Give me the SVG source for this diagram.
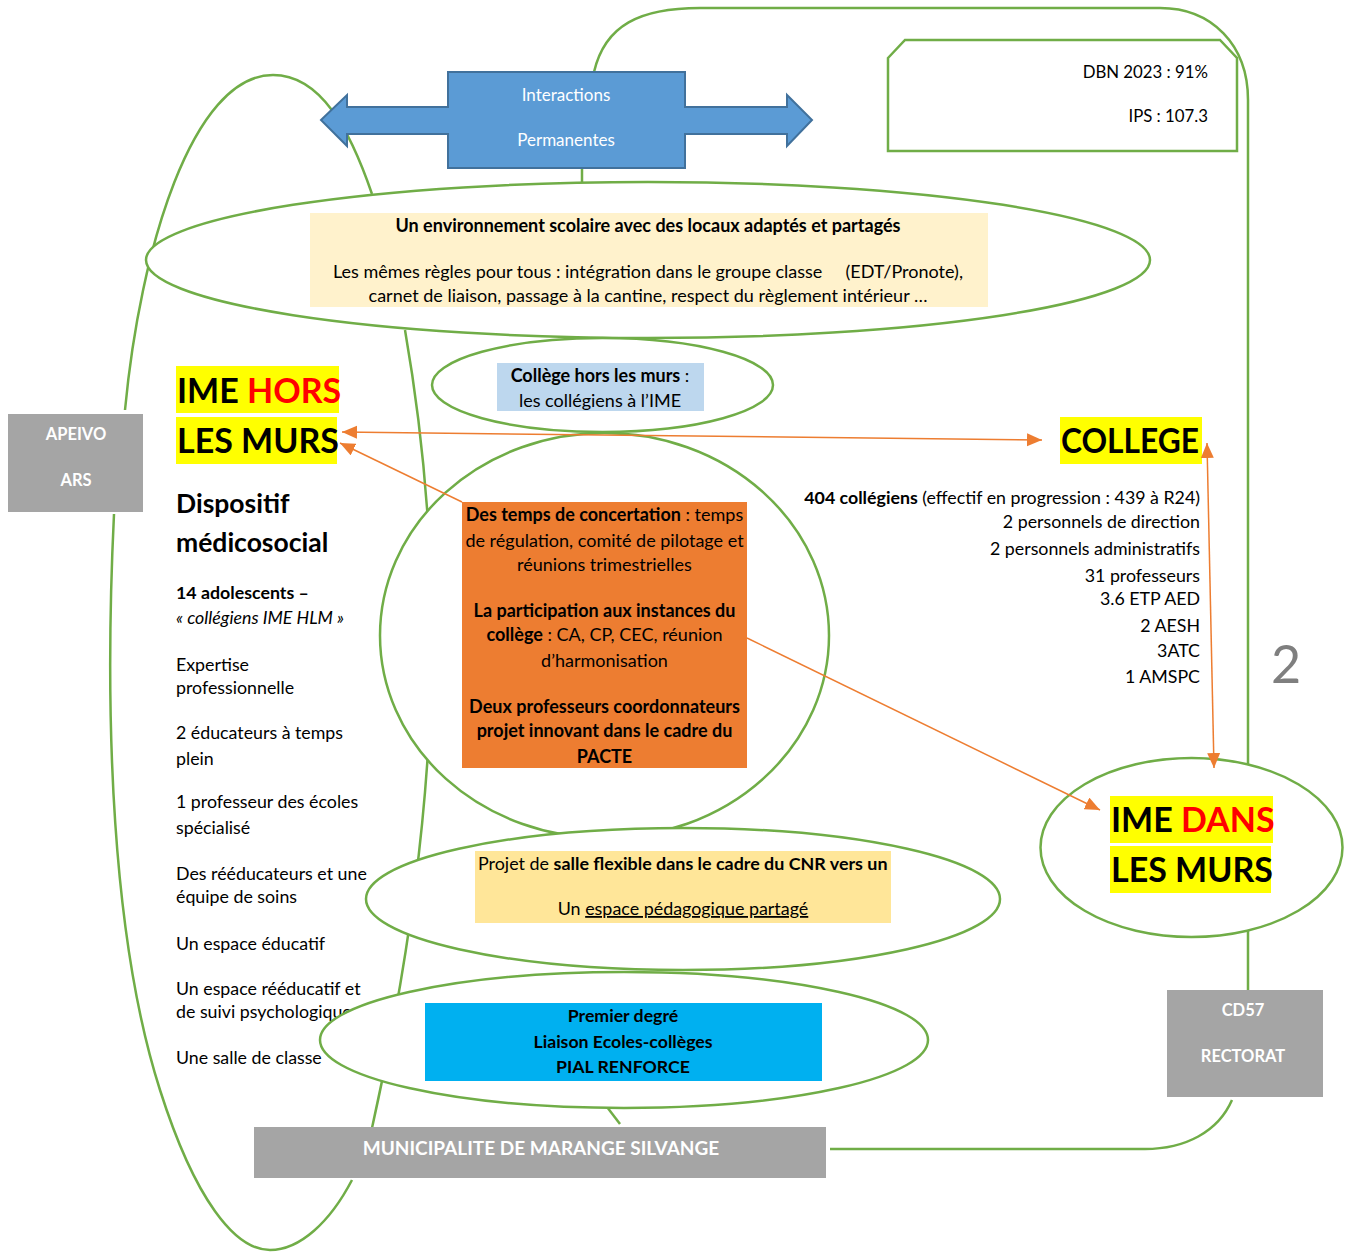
<svg xmlns="http://www.w3.org/2000/svg" width="1363" height="1252" viewBox="0 0 1363 1252">
<style>
text{font-family:Lato,"Liberation Sans",sans-serif;fill:#000}
.g{fill:none;stroke:#70ad47;stroke-width:2.5}
.el{fill:#fff;stroke:#70ad47;stroke-width:2.5}
.o{fill:none;stroke:#ed7d31;stroke-width:1.5}
.grey{fill:#a5a5a5}
.wt{fill:#fff;font-weight:bold;font-size:16.5px;text-anchor:middle}
.big{font-size:34px;font-weight:bold}
.red{fill:#ff0000}
.yl{fill:#ffff00}
.t16{font-size:17.8px}
.t15{font-size:18px}
.b{font-weight:bold}
.c{text-anchor:middle}
.r{text-anchor:end}
</style>
<defs>
<marker id="ah" markerUnits="userSpaceOnUse" markerWidth="16" markerHeight="14" refX="15" refY="6.5" orient="auto-start-reverse">
<path d="M0,0 L15,6.5 L0,13 z" fill="#ed7d31"/>
</marker>
</defs>
<rect width="1363" height="1252" fill="#fff"/>

<g id="connectors-green">
<path class="g" d="M125,410 C140,250 192,75 273,75 C321,75 350,130 372,194"/>
<path class="g" d="M114,514 C104,720 112,940 160,1090 C195,1200 235,1250 270,1250 C300,1250 330,1222 352,1180"/>
<path class="g" d="M405,330 C445,560 445,800 372,1128"/>
<path class="g" d="M594,72 C605,25 640,8 700,8 L1160,8 C1212,8 1248,45 1248,100 L1248,990"/>
<path class="g" d="M830,1149 L1145,1149 C1185,1149 1218,1132 1232,1100"/>
<path class="g" d="M582,168 L582,184"/>
<path class="g" d="M607,1107 L620,1124"/>
</g>

<g id="ime-hors-les-murs">
<rect class="yl" x="176" y="366" width="163" height="47"/>
<rect class="yl" x="176" y="417" width="161" height="47"/>
<text class="big" x="177" y="403">IME <tspan class="red">HORS</tspan></text>
<text class="big" x="177" y="453">LES MURS</text>
<text x="176" y="513" font-size="26.5" font-weight="bold">Dispositif</text>
<text x="176" y="552" font-size="26.5" font-weight="bold">médicosocial</text>
<g class="t16">
<text x="176" y="599" class="b">14 adolescents –</text>
<text x="176" y="624" font-style="italic">« collégiens IME HLM »</text>
<text x="176" y="671">Expertise</text>
<text x="176" y="694">professionnelle</text>
<text x="176" y="739">2 éducateurs à temps</text>
<text x="176" y="765">plein</text>
<text x="176" y="808">1 professeur des écoles</text>
<text x="176" y="834">spécialisé</text>
<text x="176" y="880">Des rééducateurs et une</text>
<text x="176" y="903">équipe de soins</text>
<text x="176" y="950">Un espace éducatif</text>
<text x="176" y="995">Un espace rééducatif et</text>
<text x="176" y="1018">de suivi psychologique</text>
<text x="176" y="1064">Une salle de classe</text>
</g>
</g>

<g id="environnement">
<ellipse class="el" cx="648" cy="260" rx="502" ry="78"/>
<rect x="310" y="213" width="678" height="94" fill="#fff2cc"/>
<text class="t15 b c" x="648" y="232">Un environnement scolaire avec des locaux adaptés et partagés</text>
<text class="t15" x="333" y="278">Les mêmes règles pour tous : intégration dans le groupe classe</text>
<text class="t15 r" x="963" y="278">(EDT/Pronote),</text>
<text class="t15 c" x="648" y="302">carnet de liaison, passage à la cantine, respect du règlement intérieur …</text>
</g>

<g id="college-hors-les-murs">
<ellipse class="el" cx="602.5" cy="385" rx="170.5" ry="47"/>
<rect x="497" y="363" width="207" height="48" fill="#bdd7ee"/>
<text class="t15 c" x="600" y="382"><tspan class="b">Collège hors les murs</tspan> :</text>
<text class="t15 c" x="600" y="407">les collégiens à l’IME</text>
</g>

<g id="concertation">
<ellipse class="el" cx="604.5" cy="635.5" rx="224.5" ry="202.5"/>
<rect x="462" y="502" width="285" height="266" fill="#ed7d31"/>
<g class="t15 c">
<text x="604.5" y="521"><tspan class="b">Des temps de concertation</tspan> : temps</text>
<text x="604.5" y="547">de régulation, comité de pilotage et</text>
<text x="604.5" y="571">réunions trimestrielles</text>
<text x="604.5" y="617" class="b">La participation aux instances du</text>
<text x="604.5" y="641"><tspan class="b">collège</tspan> : CA, CP, CEC, réunion</text>
<text x="604.5" y="667">d’harmonisation</text>
<text x="604.5" y="713" class="b">Deux professeurs coordonnateurs</text>
<text x="604.5" y="737" class="b">projet innovant dans le cadre du</text>
<text x="604.5" y="763" class="b">PACTE</text>
</g>
</g>

<g id="salle-flexible">
<ellipse class="el" cx="683" cy="899" rx="317" ry="71"/>
<rect x="475" y="851" width="416" height="72" fill="#ffe699"/>
<text x="478" y="870" font-size="17.9">Projet de <tspan class="b">salle flexible dans le cadre du CNR vers un</tspan></text>
<text class="c" x="683" y="915" font-size="17.9">Un <tspan text-decoration="underline">espace pédagogique partagé</tspan></text>
</g>

<g id="premier-degre">
<ellipse class="el" cx="624" cy="1040" rx="304" ry="68"/>
<rect x="425" y="1003" width="397" height="78" fill="#00b0f0"/>
<g font-size="17.7" font-weight="bold" text-anchor="middle">
<text x="623" y="1022">Premier degré</text>
<text x="623" y="1048">Liaison Ecoles-collèges</text>
<text x="623" y="1073">PIAL RENFORCE</text>
</g>
</g>

<g id="ime-dans-les-murs">
<ellipse class="el" cx="1191.5" cy="847.5" rx="151" ry="89.5"/>
<rect class="yl" x="1110" y="796" width="163" height="47"/>
<rect class="yl" x="1110" y="846" width="161" height="47"/>
<text class="big" x="1111" y="832">IME <tspan class="red">DANS</tspan></text>
<text class="big" x="1111" y="882">LES MURS</text>
</g>

<g id="college">
<rect class="yl" x="1060" y="417" width="142" height="47"/>
<text class="big" x="1061" y="453" textLength="138" lengthAdjust="spacingAndGlyphs">COLLEGE</text>
<g class="t16 r">
<text x="1200" y="504"><tspan class="b">404 collégiens</tspan> (effectif en progression : 439 à R24)</text>
<text x="1200" y="528">2 personnels de direction</text>
<text x="1200" y="555">2 personnels administratifs</text>
<text x="1200" y="582">31 professeurs</text>
<text x="1200" y="605">3.6 ETP AED</text>
<text x="1200" y="632">2 AESH</text>
<text x="1200" y="657">3ATC</text>
<text x="1200" y="683">1 AMSPC</text>
</g>
</g>

<g id="page-number">
<text x="1286" y="683" font-size="52" style="fill:#7f7f7f" text-anchor="middle">2</text>
</g>

<g id="indicateurs">
<path d="M888,58 L905,40 L1220,40 L1237,58 L1237,151 L888,151 Z" fill="#fff" stroke="#70ad47" stroke-width="2.5"/>
<text class="r" font-size="16.8" x="1208" y="78">DBN 2023 : 91%</text>
<text class="r" font-size="16.8" x="1208" y="122">IPS : 107.3</text>
</g>

<g id="interactions">
<polygon points="321,120 347,95 347,107 448,107 448,72 685,72 685,107 787,107 787,95 812,120 787,146 787,134 685,134 685,168 448,168 448,134 347,134 347,146" fill="#5b9bd5" stroke="#41719c" stroke-width="2"/>
<text class="c" font-size="17" x="566" y="101" style="fill:#fff">Interactions</text>
<text class="c" font-size="17" x="566" y="146" style="fill:#fff">Permanentes</text>
</g>

<g id="apeivo-ars">
<rect class="grey" x="8" y="414" width="135" height="98"/>
<text class="wt" x="76" y="440">APEIVO</text>
<text class="wt" x="76" y="486">ARS</text>
</g>

<g id="cd57-rectorat">
<rect class="grey" x="1167" y="990" width="156" height="107"/>
<text class="wt" x="1243" y="1016">CD57</text>
<text class="wt" x="1243" y="1062">RECTORAT</text>
</g>

<g id="municipalite">
<rect class="grey" x="254" y="1127" width="572" height="51"/>
<text class="wt" x="541" y="1155" style="font-size:19px">MUNICIPALITE DE MARANGE SILVANGE</text>
</g>

<g id="connectors-orange">
<path class="o" d="M342,432 L1042,440" marker-start="url(#ah)" marker-end="url(#ah)"/>
<path class="o" d="M462,502 L340,443" marker-end="url(#ah)"/>
<path class="o" d="M747,638 L1100,810" marker-end="url(#ah)"/>
<path class="o" d="M1207,443 L1214,768" marker-start="url(#ah)" marker-end="url(#ah)"/>
</g>
</svg>
